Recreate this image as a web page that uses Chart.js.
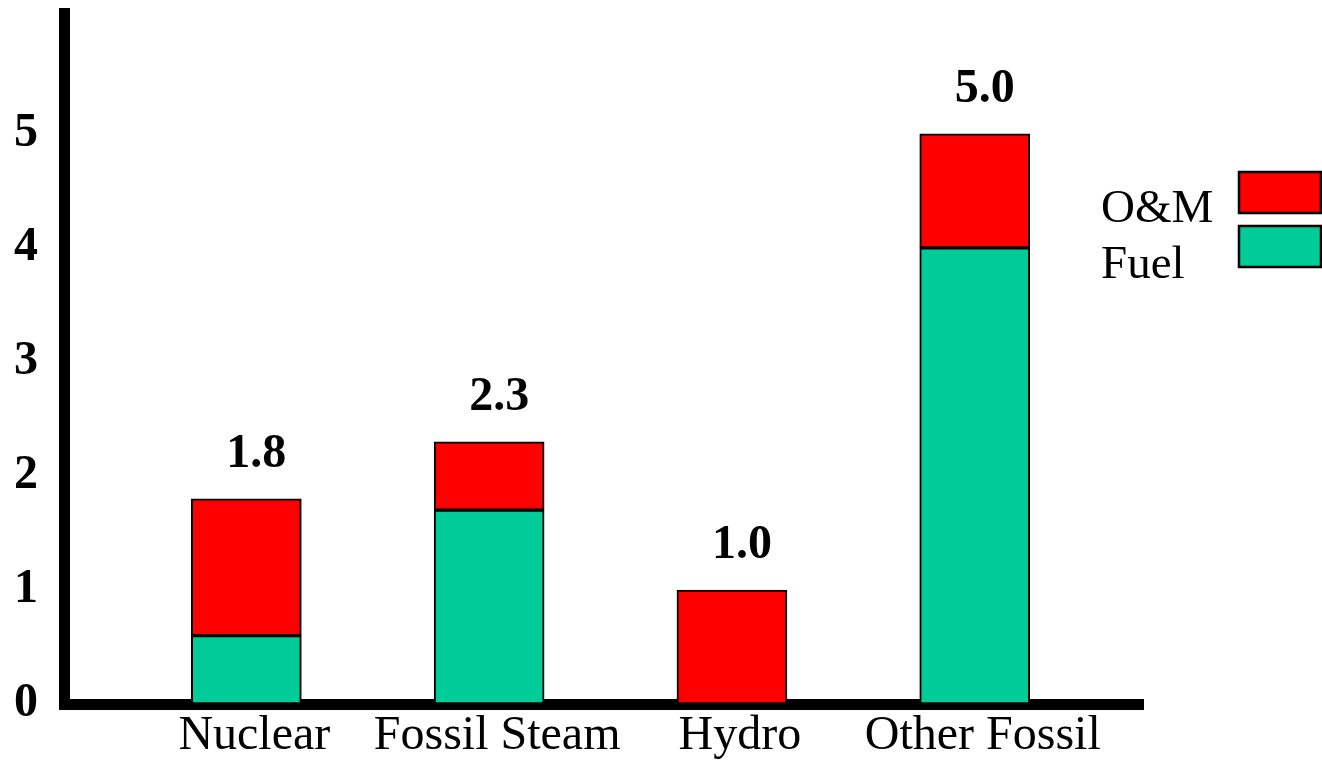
<!DOCTYPE html>
<html>
<head>
<meta charset="utf-8">
<title>Generation cost by plant type</title>
<script src="https://cdn.jsdelivr.net/npm/chart.js@4.4.1/dist/chart.umd.min.js"></script>
<style>
  html, body { margin: 0; padding: 0; background: #ffffff; }
  #wrap { width: 1322px; height: 763px; position: relative; }
</style>
</head>
<body>
<div id="wrap"><canvas id="chart"></canvas></div>
<script>
// Plant types along the horizontal axis
const categories = ['Nuclear', 'Fossil Steam', 'Hydro', 'Other Fossil'];
// Cost components per plant type (stacked: fuel at the bottom, O&M on top)
const fuelValues = [0.6, 1.7, null, 4.0];
const omValues = [1.2, 0.6, 1.0, 1.0];
// Vertical axis tick values
const yTicks = [0, 1, 2, 3, 4, 5];
// Series names and fills
const seriesNames = ['Fuel', 'O&M'];
const seriesColors = ['#00CC99', '#FF0000'];

const serif = "'Liberation Serif', 'Times New Roman', serif";

// Totals printed above each column, taken from the stacked segments
const totalLabels = {
  id: 'totalLabels',
  afterDatasetsDraw(chart) {
    const { ctx, scales: { x, y } } = chart;
    ctx.save();
    ctx.font = 'bold 48px ' + serif;
    ctx.fillStyle = '#000';
    ctx.textAlign = 'center';
    ctx.textBaseline = 'middle';
    categories.forEach((_, i) => {
      const total = (fuelValues[i] || 0) + (omValues[i] || 0);
      const px = x.getPixelForValue(i) + 10;
      const py = y.getPixelForValue(total) - 44;
      ctx.fillText(total.toFixed(1), px, py);
    });
    ctx.restore();
  }
};

// Key in the upper right: names on the left, colour swatches on the right
const sideKey = {
  id: 'sideKey',
  afterDraw(chart) {
    const { ctx } = chart;
    const order = chart.data.datasets.map((d, i) => i).reverse();
    ctx.save();
    order.forEach((di, k) => {
      const ds = chart.data.datasets[di];
      const bx = 1239, by = 172 + k * 54, bw = 82, bh = 41;
      ctx.fillStyle = ds.backgroundColor;
      ctx.fillRect(bx, by, bw, bh);
      ctx.lineWidth = 2.5;
      ctx.strokeStyle = '#000';
      ctx.strokeRect(bx, by, bw, bh);
      ctx.font = '47px ' + serif;
      ctx.fillStyle = '#000';
      ctx.textAlign = 'left';
      ctx.textBaseline = 'alphabetic';
      ctx.fillText(ds.label, 1101, 222 + k * 56);
    });
    ctx.restore();
  }
};

const datasets = [fuelValues, omValues].map((vals, s) => ({
  label: seriesNames[s],
  data: vals.map((v, i) => ({ x: i, y: v })),
  backgroundColor: seriesColors[s],
  borderColor: '#000000',
  borderWidth: 2,
  borderSkipped: false,
  barThickness: 110
}));

new Chart(document.getElementById('chart'), {
  type: 'bar',
  data: { datasets },
  options: {
    responsive: true,
    maintainAspectRatio: false,
    animation: false,
    layout: { padding: { top: 13, right: 179, left: 0, bottom: 0 } },
    plugins: {
      legend: { display: false },
      tooltip: { enabled: false }
    },
    scales: {
      x: {
        type: 'linear',
        stacked: true,
        offset: false,
        min: -0.751,
        max: 3.693,
        afterBuildTicks(scale) {
          scale.ticks = categories.map((_, i) => ({ value: i }));
        },
        afterFit(scale) {
          scale.height = 59;
          scale.paddingLeft = 0;
          scale.paddingRight = 0;
        },
        grid: { display: false, drawTicks: false },
        border: { display: true, color: '#000000', width: 11 },
        ticks: {
          autoSkip: false,
          maxRotation: 0,
          padding: 4,
          labelOffset: 8,
          color: '#000000',
          font: { family: serif, size: 48 },
          callback: (value) => categories[value]
        }
      },
      y: {
        stacked: true,
        min: 0,
        max: 6.06,
        afterBuildTicks(scale) {
          scale.ticks = yTicks.map(v => ({ value: v }));
        },
        afterFit(scale) {
          scale.width = 64;
          scale.paddingTop = 0;
          scale.paddingBottom = 0;
        },
        grid: { display: false, drawTicks: false },
        border: { display: true, color: '#000000', width: 11 },
        ticks: {
          padding: 26,
          color: '#000000',
          font: { family: serif, size: 48, weight: 'bold' }
        }
      }
    }
  },
  plugins: [totalLabels, sideKey]
});
</script>
</body>
</html>
